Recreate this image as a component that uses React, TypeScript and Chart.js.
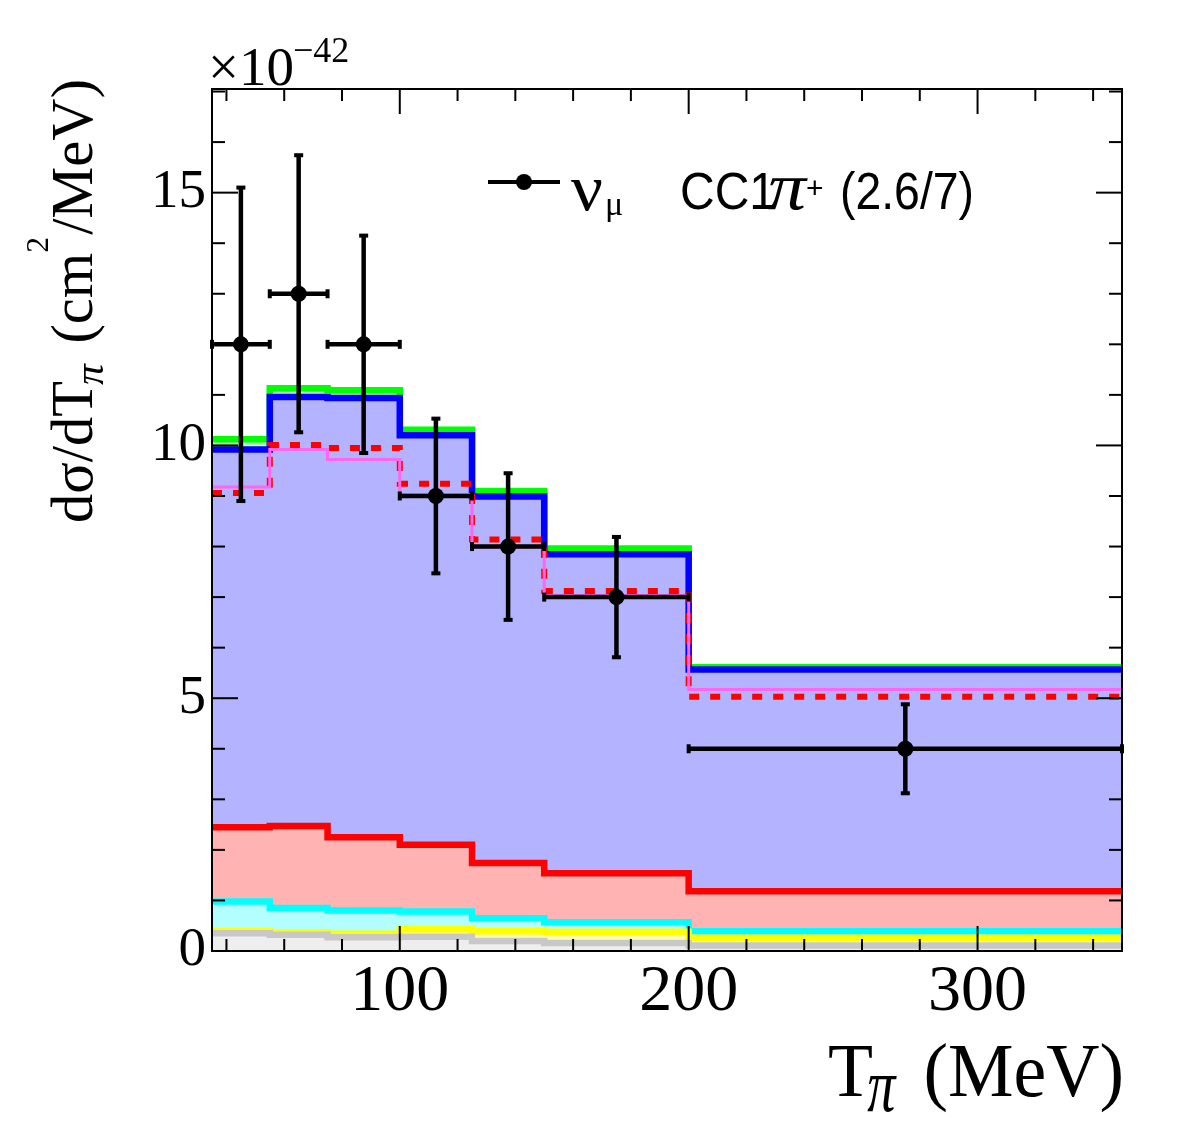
import React, { useEffect, useRef } from "react";
import { Chart, registerables } from "chart.js";

Chart.register(...registerables);

// ---------------- data ----------------
const binEdges = [35, 55, 75, 100, 125, 150, 200, 350];
// stacked MC components (per-bin contributions, bottom to top)
const grayComp = [0.35, 0.32, 0.27, 0.28, 0.2, 0.16, 0.11];
const yellowComp = [0.04, 0.05, 0.07, 0.15, 0.19, 0.22, 0.15];
const cyanComp = [0.59, 0.48, 0.46, 0.35, 0.26, 0.19, 0.13];
const redComp = [1.47, 1.62, 1.45, 1.32, 1.09, 0.97, 0.79];
const blueComp = [7.47, 8.49, 8.69, 8.1, 7.25, 6.31, 4.39];
const greenComp = [0.2, 0.17, 0.15, 0.11, 0.11, 0.11, 0.04];
// alternative model totals (not stacked)
const dashedModel = [9.06, 10.01, 9.95, 9.24, 8.14, 7.12, 5.03];
const magentaModel = [9.18, 9.92, 9.72, 9.03, 7.99, 7.03, 5.17];
// data points
const dataX = [45, 65, 87.5, 112.5, 137.5, 175, 275];
const dataXErr = [10, 10, 12.5, 12.5, 12.5, 25, 75];
const dataY = [12, 13, 12, 9, 8, 7, 4];
const dataYErr = [3.1, 2.74, 2.15, 1.53, 1.45, 1.19, 0.88];
// axes
const X_MIN = 35;
const X_MAX = 350;
const Y_MIN = 0;
const Y_MAX = 17.05;
const xMajorTicks = [100, 200, 300];
const xMinorTicks = [40, 60, 80, 120, 140, 160, 180, 220, 240, 260, 280, 320, 340];
const yMajorTicks = [0, 5, 10, 15];
const yMinorTicks = [1, 2, 3, 4, 6, 7, 8, 9, 11, 12, 13, 14, 16, 17];

const SERIF = '"Liberation Serif", "Times New Roman", serif';
const SANS = '"Liberation Sans", Arial, sans-serif';

const W = 1182;
const H = 1134;

function histPoints(vals: number[]) {
  const pts = vals.map((v, i) => ({ x: binEdges[i], y: v }));
  pts.push({ x: binEdges[binEdges.length - 1], y: vals[vals.length - 1] });
  return pts;
}

function stackLayer(label: string, vals: number[], line: string, fillColor: string, order: number) {
  return {
    label,
    data: histPoints(vals),
    stack: "mc",
    order,
    borderColor: line,
    backgroundColor: fillColor,
    borderWidth: 6.5,
    fill: "origin",
    stepped: "before",
    pointRadius: 0,
    clip: 0,
    borderJoinStyle: "miter",
    borderCapStyle: "butt",
  };
}

type Piece = { t: string; font: string; dy?: number; sy?: number; gap?: number };

function drawSeq(ctx: CanvasRenderingContext2D, pieces: Piece[], x0: number, y0: number, target?: number) {
  const ws = pieces.map((p) => {
    ctx.font = p.font;
    return ctx.measureText(p.t).width + (p.gap || 0);
  });
  const total = ws.reduce((a, b) => a + b, 0);
  const sx = target ? target / total : 1;
  ctx.save();
  ctx.translate(x0, y0);
  ctx.scale(sx, 1);
  ctx.textAlign = "left";
  ctx.textBaseline = "alphabetic";
  ctx.fillStyle = "#000";
  let cx = 0;
  pieces.forEach((p, i) => {
    ctx.font = p.font;
    ctx.save();
    ctx.translate(cx, p.dy || 0);
    if (p.sy) ctx.scale(1, p.sy);
    ctx.fillText(p.t, 0, 0);
    ctx.restore();
    cx += ws[i];
  });
  ctx.restore();
}

const errorBarPlugin = {
  id: "errorBars",
  afterDatasetsDraw(chart: any) {
    const { ctx } = chart;
    const xs = chart.scales.x;
    const ys = chart.scales.y;
    ctx.save();
    ctx.strokeStyle = "#000";
    ctx.fillStyle = "#000";
    ctx.lineWidth = 4.5;
    ctx.lineCap = "butt";
    for (let i = 0; i < dataX.length; i++) {
      const cx = xs.getPixelForValue(dataX[i]);
      const cy = ys.getPixelForValue(dataY[i]);
      const top = ys.getPixelForValue(dataY[i] + dataYErr[i]);
      const bot = ys.getPixelForValue(dataY[i] - dataYErr[i]);
      const left = xs.getPixelForValue(dataX[i] - dataXErr[i]);
      const right = xs.getPixelForValue(dataX[i] + dataXErr[i]);
      ctx.beginPath();
      ctx.moveTo(cx, top);
      ctx.lineTo(cx, bot);
      ctx.moveTo(left, cy);
      ctx.lineTo(right, cy);
      ctx.stroke();
      // caps
      ctx.fillRect(cx - 4.5, top - 2, 9, 4);
      ctx.fillRect(cx - 4.5, bot - 2, 9, 4);
      ctx.fillRect(left - 2, cy - 4.5, 4, 9);
      ctx.fillRect(right - 2, cy - 4.5, 4, 9);
    }
    ctx.restore();
  },
};

const framePlugin = {
  id: "frameTicks",
  afterDraw(chart: any) {
    const { ctx, chartArea: a } = chart;
    const xs = chart.scales.x;
    const ys = chart.scales.y;
    ctx.save();
    ctx.strokeStyle = "#000";
    ctx.lineWidth = 2;
    ctx.strokeRect(a.left, a.top, a.right - a.left, a.bottom - a.top);
    const seg = (x1: number, y1: number, x2: number, y2: number) => {
      ctx.beginPath();
      ctx.moveTo(x1, y1);
      ctx.lineTo(x2, y2);
      ctx.stroke();
    };
    xMajorTicks.forEach((v) => {
      const p = xs.getPixelForValue(v);
      seg(p, a.bottom, p, a.bottom - 25);
      seg(p, a.top, p, a.top + 25);
    });
    xMinorTicks.forEach((v) => {
      const p = xs.getPixelForValue(v);
      seg(p, a.bottom, p, a.bottom - 12);
      seg(p, a.top, p, a.top + 12);
    });
    yMajorTicks.forEach((v) => {
      const p = ys.getPixelForValue(v);
      seg(a.left, p, a.left + 26, p);
      seg(a.right, p, a.right - 26, p);
    });
    yMinorTicks.forEach((v) => {
      const p = ys.getPixelForValue(v);
      seg(a.left, p, a.left + 13, p);
      seg(a.right, p, a.right - 13, p);
    });
    ctx.restore();
  },
};

const textPlugin = {
  id: "texts",
  afterDraw(chart: any) {
    const { ctx } = chart;
    // exponent label
    drawSeq(ctx, [{ t: "\u00d710", font: `55px ${SERIF}` }], 208, 85);
    drawSeq(ctx, [{ t: "\u221242", font: `36px ${SERIF}` }], 293, 62);

    // x title
    drawSeq(
      ctx,
      [
        { t: "T", font: `76px ${SERIF}`, gap: -6 },
        { t: "\u03c0", font: `italic 58px ${SERIF}`, dy: 15, sy: 1.3, gap: 10 },
        { t: " (MeV)", font: `76px ${SERIF}` },
      ],
      828,
      1096,
      296
    );

    // y title (rotated)
    ctx.save();
    ctx.translate(92, 523);
    ctx.rotate(-Math.PI / 2);
    drawSeq(
      ctx,
      [
        { t: "d\u03c3/dT", font: `59px ${SERIF}`, gap: -4 },
        { t: "\u03c0", font: `italic 42px ${SERIF}`, dy: 11, gap: 6 },
        { t: " (cm", font: `59px ${SERIF}` },
        { t: "2", font: `32px ${SERIF}`, dy: -44, gap: 2 },
        { t: "/MeV)", font: `59px ${SERIF}` },
      ],
      0,
      0,
      444
    );
    ctx.restore();

    // legend
    ctx.save();
    ctx.strokeStyle = "#000";
    ctx.lineWidth = 4;
    ctx.beginPath();
    ctx.moveTo(488, 182);
    ctx.lineTo(560, 182);
    ctx.stroke();
    ctx.beginPath();
    ctx.arc(524, 182, 8, 0, Math.PI * 2);
    ctx.fillStyle = "#000";
    ctx.fill();
    ctx.restore();
    drawSeq(ctx, [{ t: "\u03bd", font: `66px ${SERIF}` }], 571, 210, 32);
    drawSeq(ctx, [{ t: "\u03bc", font: `34px ${SERIF}` }], 605, 215);
    drawSeq(ctx, [{ t: "CC1", font: `52px ${SANS}` }], 680, 209, 96);
    drawSeq(ctx, [{ t: "\u03c0", font: `italic 68px ${SERIF}` }], 768, 209, 38);
    drawSeq(ctx, [{ t: "+", font: `30px ${SANS}` }], 806, 198);
    drawSeq(ctx, [{ t: "(2.6/7)", font: `52px ${SANS}` }], 840, 209, 134);
  },
};

export default function App() {
  const ref = useRef<HTMLCanvasElement | null>(null);

  useEffect(() => {
    if (!ref.current) return;
    const datasets: any[] = [
      {
        label: "data",
        data: dataX.map((x, i) => ({ x, y: dataY[i] })),
        stack: "data",
        order: 0,
        showLine: false,
        pointRadius: 8,
        pointBackgroundColor: "#000",
        pointBorderColor: "#000",
        pointBorderWidth: 0,
        clip: false,
      },
      {
        label: "model B",
        data: histPoints(magentaModel),
        stack: "magenta",
        order: 1,
        borderColor: "#ff66f0",
        borderWidth: 3,
        fill: false,
        stepped: "before",
        pointRadius: 0,
        clip: 0,
      },
      {
        label: "model A",
        data: histPoints(dashedModel),
        stack: "dashed",
        order: 2,
        borderColor: "#ff0000",
        borderWidth: 6,
        borderDash: [10, 11],
        fill: false,
        stepped: "before",
        pointRadius: 0,
        clip: 0,
      },
      stackLayer("gray", grayComp, "#c8c8c8", "#eeeeee", 3),
      stackLayer("yellow", yellowComp, "#ffff00", "#ffffb3", 4),
      stackLayer("cyan", cyanComp, "#00ffff", "#b3ffff", 5),
      stackLayer("red", redComp, "#ff0000", "#ffb3b3", 6),
      stackLayer("blue", blueComp, "#0000ff", "#b3b3ff", 7),
      stackLayer("green", greenComp, "#00ff00", "#b3ffb3", 8),
    ];

    const chart = new Chart(ref.current, {
      type: "line",
      data: { datasets },
      options: {
        animation: false,
        responsive: false,
        devicePixelRatio: 1,
        events: [],
        layout: { padding: { top: 89, right: W - 1122, left: 0, bottom: 0 } },
        plugins: { legend: { display: false }, tooltip: { enabled: false }, title: { display: false } },
        scales: {
          x: {
            type: "linear",
            min: X_MIN,
            max: X_MAX,
            grid: { display: false, drawTicks: false },
            border: { display: false },
            afterBuildTicks: (s: any) => {
              s.ticks = xMajorTicks.map((v) => ({ value: v }));
            },
            afterFit: (s: any) => {
              s.height = H - 951;
            },
            ticks: {
              font: { family: SERIF, size: 66 },
              color: "#000",
              padding: 2,
              maxRotation: 0,
              autoSkip: false,
            },
          },
          y: {
            type: "linear",
            min: Y_MIN,
            max: Y_MAX,
            stacked: true,
            grid: { display: false, drawTicks: false },
            border: { display: false },
            afterBuildTicks: (s: any) => {
              s.ticks = yMajorTicks.map((v) => ({ value: v }));
            },
            afterFit: (s: any) => {
              s.width = 212;
            },
            ticks: {
              font: { family: SERIF, size: 55 },
              color: "#000",
              padding: 6,
              autoSkip: false,
            },
          },
        },
      } as any,
      plugins: [errorBarPlugin, framePlugin, textPlugin],
    });
    return () => chart.destroy();
  }, []);

  return (
    <div style={{ position: "absolute", left: 0, top: 0, width: W, height: H, background: "#fff" }}>
      <canvas ref={ref} width={W} height={H} style={{ width: W, height: H, display: "block" }} />
    </div>
  );
}
